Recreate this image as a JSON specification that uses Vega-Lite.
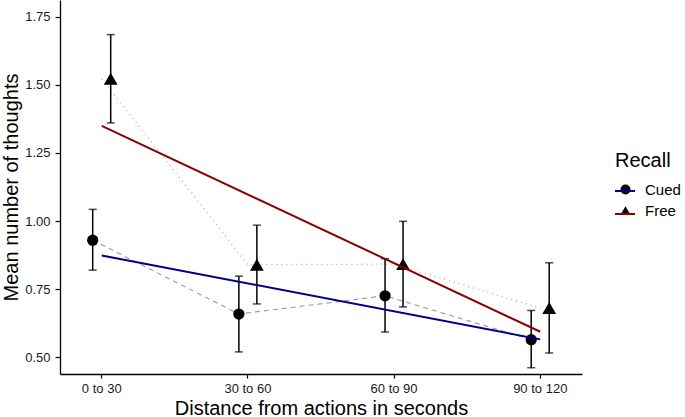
{
  "$schema": "https://vega.github.io/schema/vega-lite/v6.json",
  "width": 522,
  "height": 374,
  "autosize": {"type": "none"},
  "padding": {"left": 60, "top": 0, "right": 103, "bottom": 43},
  "background": "white",
  "config": {
    "view": {"stroke": null},
    "font": "Liberation Sans",
    "axis": {
      "grid": false,
      "domainColor": "black",
      "domainWidth": 1.3,
      "tickColor": "black",
      "tickWidth": 1.2,
      "labelColor": "#1a1a1a",
      "labelFont": "Liberation Sans",
      "titleFont": "Liberation Sans",
      "titleFontWeight": "normal",
      "titleColor": "black"
    },
    "legend": {
      "labelFont": "Liberation Sans",
      "titleFont": "Liberation Sans"
    }
  },
  "datasets": {
    "means": [
      {"dist": "0 to 30", "recall": "Cued", "mean": 0.930, "lo": 0.820, "hi": 1.043},
      {"dist": "30 to 60", "recall": "Cued", "mean": 0.659, "lo": 0.520, "hi": 0.798},
      {"dist": "60 to 90", "recall": "Cued", "mean": 0.726, "lo": 0.593, "hi": 0.862},
      {"dist": "90 to 120", "recall": "Cued", "mean": 0.565, "lo": 0.462, "hi": 0.672},
      {"dist": "0 to 30", "recall": "Free", "mean": 1.522, "lo": 1.360, "hi": 1.684},
      {"dist": "30 to 60", "recall": "Free", "mean": 0.840, "lo": 0.696, "hi": 0.985},
      {"dist": "60 to 90", "recall": "Free", "mean": 0.842, "lo": 0.685, "hi": 0.999},
      {"dist": "90 to 120", "recall": "Free", "mean": 0.681, "lo": 0.516, "hi": 0.847}
    ],
    "fit": [
      {"dist": "0 to 30", "group": "Cued", "fit": 0.874},
      {"dist": "90 to 120", "group": "Cued", "fit": 0.566},
      {"dist": "0 to 30", "group": "Free", "fit": 1.349},
      {"dist": "90 to 120", "group": "Free", "fit": 0.594}
    ]
  },
  "encoding": {
    "x": {
      "field": "dist",
      "type": "nominal",
      "sort": ["0 to 30", "30 to 60", "60 to 90", "90 to 120"],
      "scale": {"type": "band", "paddingInner": 0.4288, "paddingOuter": 0},
      "axis": {
        "title": "Distance from actions in seconds",
        "titleFontSize": 20,
        "titleY": 40,
        "titleBaseline": "alphabetic",
        "labelFontSize": 13,
        "labelAngle": 0,
        "tickSize": 4,
        "labelPadding": 4
      }
    }
  },
  "layer": [
    {
      "data": {"name": "means"},
      "transform": [{"filter": "datum.recall === 'Cued'"}],
      "mark": {"type": "line", "stroke": "#999999", "strokeWidth": 1.1, "strokeDash": [5, 4]},
      "encoding": {
        "xOffset": {"field": "recall", "type": "nominal", "scale": {"type": "point", "domain": ["Cued", "Free"], "range": [32.7, 50.7], "padding": 0}},
        "y": {
          "field": "mean",
          "type": "quantitative",
          "scale": {"domain": [0.439, 1.811], "nice": false, "zero": false},
          "axis": {
            "title": "Mean number of thoughts",
            "titleFontSize": 20,
            "titleX": -43,
            "titleY": 187,
            "titleBaseline": "alphabetic",
            "labelFontSize": 13,
            "tickSize": 5,
            "labelPadding": 5,
            "values": [0.5, 0.75, 1.0, 1.25, 1.5, 1.75],
            "format": ".2f"
          }
        }
      }
    },
    {
      "data": {"name": "means"},
      "transform": [{"filter": "datum.recall === 'Free'"}],
      "mark": {"type": "line", "stroke": "#aaaaaa", "strokeWidth": 1.3, "strokeDash": [1, 4]},
      "encoding": {
        "y": {"field": "mean", "type": "quantitative"}
      }
    },
    {
      "data": {"name": "means"},
      "mark": {"type": "rule", "color": "black", "strokeWidth": 1.5},
      "encoding": {
        "xOffset": {"field": "recall", "type": "nominal"},
        "y": {"field": "lo", "type": "quantitative"},
        "y2": {"field": "hi"}
      }
    },
    {
      "data": {"name": "means"},
      "mark": {"type": "tick", "color": "black", "size": 8, "thickness": 1.5, "orient": "horizontal"},
      "encoding": {
        "xOffset": {"field": "recall", "type": "nominal"},
        "y": {"field": "lo", "type": "quantitative"}
      }
    },
    {
      "data": {"name": "means"},
      "mark": {"type": "tick", "color": "black", "size": 8, "thickness": 1.5, "orient": "horizontal"},
      "encoding": {
        "xOffset": {"field": "recall", "type": "nominal"},
        "y": {"field": "hi", "type": "quantitative"}
      }
    },
    {
      "data": {"name": "means"},
      "transform": [{"filter": "datum.recall === 'Cued'"}],
      "mark": {"type": "point", "filled": true, "opacity": 1, "color": "black", "strokeWidth": 0, "size": 127},
      "encoding": {
        "xOffset": {"field": "recall", "type": "nominal"},
        "y": {"field": "mean", "type": "quantitative"},
        "shape": {
          "field": "recall",
          "type": "nominal",
          "scale": {"domain": ["Cued", "Free"], "range": ["circle", "triangle-up"]},
          "legend": {
            "title": "Recall",
            "orient": "none",
            "legendX": 555,
            "legendY": 151,
            "titleFontSize": 20,
            "titleFontWeight": "normal",
            "titleColor": "black",
            "titlePadding": 11,
            "labelFontSize": 15,
            "labelColor": "black",
            "labelOffset": 12,
            "symbolOffset": 3,
            "symbolSize": 100,
            "symbolFillColor": "black",
            "symbolStrokeColor": "black",
            "symbolStrokeWidth": 0,
            "symbolOpacity": 1,
            "rowPadding": 5
          }
        }
      }
    },
    {
      "data": {"name": "means"},
      "transform": [{"filter": "datum.recall === 'Free'"}],
      "mark": {"type": "point", "filled": true, "opacity": 1, "color": "black", "strokeWidth": 0, "size": 190},
      "encoding": {
        "xOffset": {"field": "recall", "type": "nominal"},
        "y": {"field": "mean", "type": "quantitative"},
        "shape": {"field": "recall", "type": "nominal"}
      }
    },
    {
      "data": {"name": "fit"},
      "mark": {"type": "line", "strokeWidth": 2},
      "encoding": {
        "y": {"field": "fit", "type": "quantitative"},
        "color": {
          "field": "group",
          "type": "nominal",
          "scale": {"range": ["#00008B", "#8B0000"]},
          "legend": {
            "title": " ",
            "orient": "right",
            "offset": 32,
            "titleFontSize": 20,
            "titlePadding": 160,
            "labelFontSize": 16,
            "labelExpr": "''",
            "symbolType": "stroke",
            "symbolSize": 400,
            "symbolStrokeWidth": 2,
            "rowPadding": 4
          }
        }
      }
    }
  ]
}
